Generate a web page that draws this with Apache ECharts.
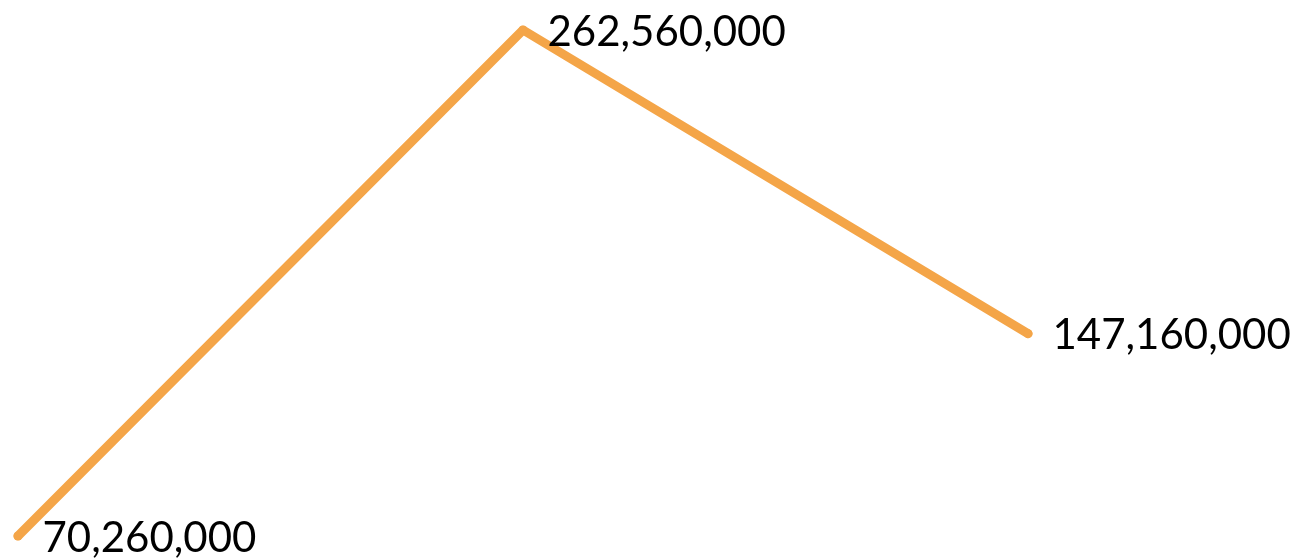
<!DOCTYPE html>
<html>
<head>
<meta charset="utf-8">
<script src="https://cdn.jsdelivr.net/npm/echarts@6/dist/echarts.min.js"></script>
<style>
html,body{margin:0;padding:0;background:#fff;}
#chart{width:1294px;height:558px;}
</style>
</head>
<body>
<div id="chart"></div>
<script>
const categories = ['A', 'B', 'C'];
const values = [70260000, 262560000, 147160000];

const chart = echarts.init(document.getElementById('chart'), null, {renderer: 'canvas'});
chart.setOption({
  animation: false,
  grid: {left: 18, right: 266, top: 30, bottom: 22, containLabel: false},
  xAxis: {
    type: 'category', data: categories, boundaryGap: false, show: false
  },
  yAxis: {
    type: 'value', min: 'dataMin', max: 'dataMax', show: false, scale: true
  },
  series: [{
    type: 'line',
    data: values,
    symbol: 'circle',
    symbolSize: 9,
    itemStyle: {color: '#F4A548'},
    lineStyle: {color: '#F4A548', width: 9, cap: 'round', join: 'round'},
    label: {
      show: true,
      position: 'right',
      distance: 20,
      offset: [0, 2],
      color: '#000',
      fontFamily: 'Lato',
      fontSize: 42,
      formatter: p => p.value.toLocaleString('en-US')
    }
  }]
});
</script>
</body>
</html>
